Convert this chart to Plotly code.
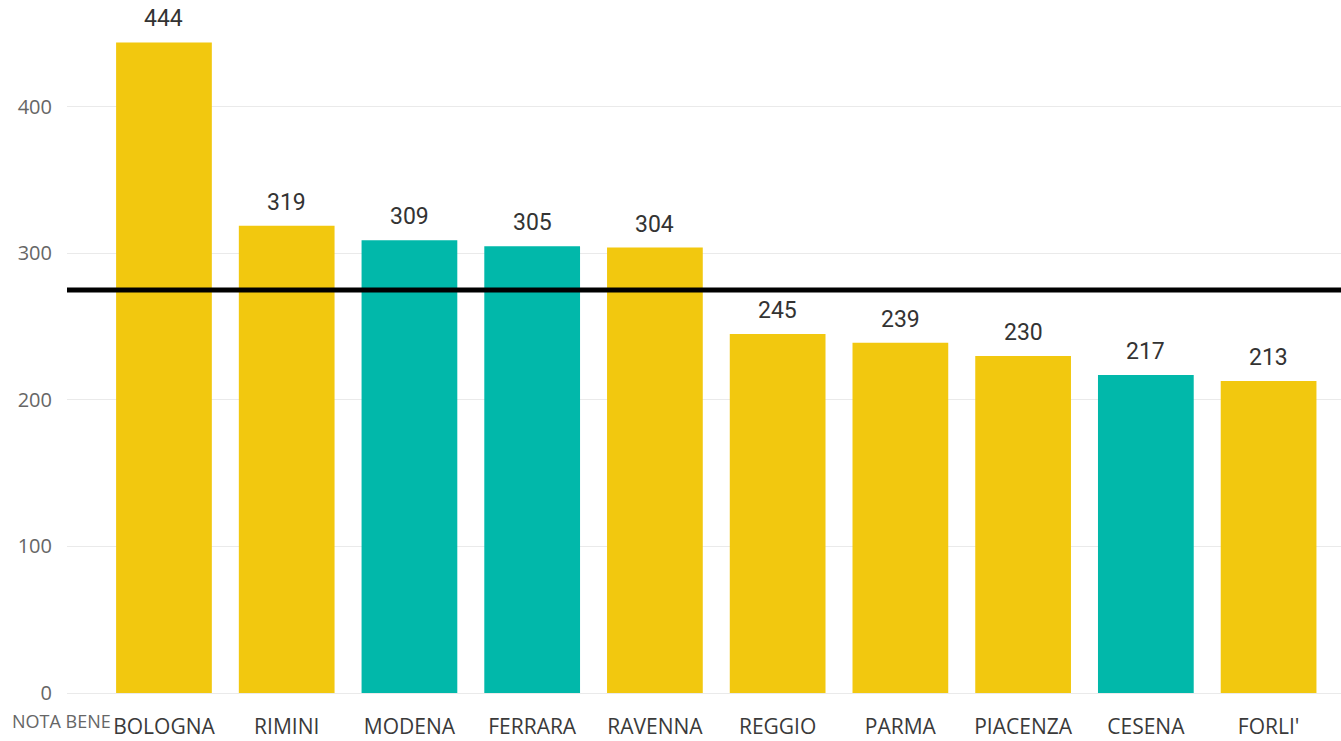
import plotly.graph_objects as go

cities = ["BOLOGNA", "RIMINI", "MODENA", "FERRARA", "RAVENNA", "REGGIO", "PARMA", "PIACENZA", "CESENA", "FORLI'"]
values = [444, 319, 309, 305, 304, 245, 239, 230, 217, 213]
groups = ["Y", "Y", "T", "T", "Y", "Y", "Y", "Y", "T", "Y"]
reference_value = 275
y_ticks = [0, 100, 200, 300, 400]

color_map = {"Y": "#F2C80F", "T": "#01B8AA"}
colors = [color_map[g] for g in groups]

fig = go.Figure()
fig.add_trace(go.Bar(
    x=cities, y=values,
    marker=dict(color=colors, line=dict(width=0)),
    width=0.78,
    hoverinfo="x+y",
))

for c, v in zip(cities, values):
    fig.add_annotation(x=c, y=v, text=str(v), showarrow=False,
                       xref="x", yref="y", yanchor="bottom", yshift=8,
                       font=dict(family="Roboto", size=23, color="#333333"))

fig.add_shape(type="line", xref="paper", yref="y", x0=0, x1=1,
              y0=reference_value, y1=reference_value,
              line=dict(color="black", width=5))

fig.add_annotation(text="NOTA BENE", xref="paper", yref="paper",
                   x=-57/1274, y=-14/693, xanchor="left", yanchor="top",
                   showarrow=False,
                   font=dict(family="Open Sans", size=18, color="#666666"))

fig.update_layout(
    width=1341, height=741,
    margin=dict(l=67, r=0, t=0, b=48, autoexpand=False),
    plot_bgcolor="white", paper_bgcolor="white",
    showlegend=False,
    xaxis=dict(
        range=[-0.79, 9.59],
        automargin=False,
        showgrid=False, zeroline=False, showline=False,
        tickfont=dict(family="Open Sans", size=21, color="#3a3a3a"),
        ticks="outside", ticklen=15, tickcolor="rgba(0,0,0,0)",
    ),
    yaxis=dict(
        range=[0, 473],
        automargin=False,
        tickvals=y_ticks,
        showgrid=True, gridcolor="#EAEAEA", gridwidth=1,
        zeroline=True, zerolinecolor="#EAEAEA", zerolinewidth=1,
        tickfont=dict(family="Open Sans", size=20, color="#666666"),
        ticks="outside", ticklen=10, tickcolor="rgba(0,0,0,0)",
    ),
)

fig.write_html("out.html", config={"displayModeBar": False},
               post_script="document.body.style.margin='0';document.body.style.overflow='hidden';")
